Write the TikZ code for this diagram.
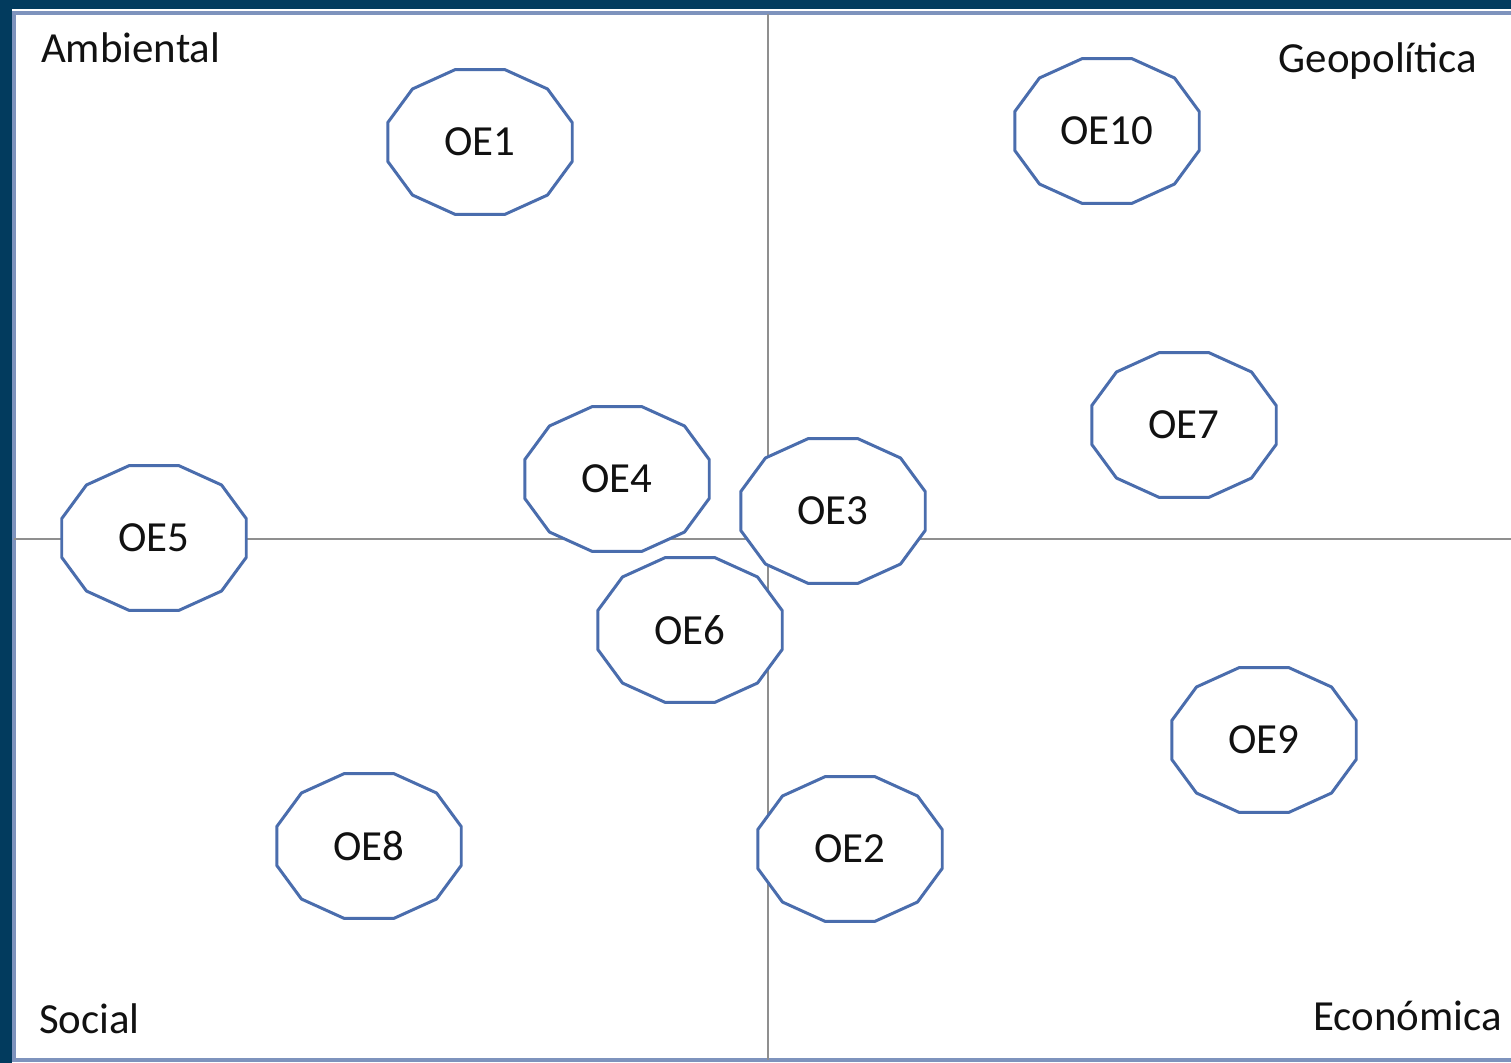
\documentclass[tikz,border=0pt]{standalone}
\usepackage{fontspec}
\setmainfont{Carlito}
\usepackage{xcolor}
\definecolor{navy}{HTML}{023B5E}
\definecolor{rim}{HTML}{7E93BD}
\definecolor{axis}{HTML}{8F8F8F}
\definecolor{edge}{HTML}{4A6DAD}
\definecolor{ink}{HTML}{111111}
\usepackage{tikz}
\usetikzlibrary{backgrounds}
\tikzset{
  every picture/.style={font=\fontsize{12.2}{14}\selectfont, line width=0.6pt},
  quadrant/.style={draw=axis, line width=0.7pt},
  dodec/.style={draw=edge, fill=white, line width=0.85pt, line join=miter},
  tag/.style={text=ink, inner sep=0pt},
  corner/.style={tag},
}

\begin{document}
\begin{tikzpicture}[x=0.01cm, y=-0.01cm]
  \useasboundingbox (0,0) rectangle (1511,1063);
  \begin{scope}[on background layer]
    \fill[navy] (0,0) rectangle (1511,1063);
    \fill[white] (12,9) rectangle (1511,1063);
    \draw[rim, line width=1.2pt] (1511,13) -- (14,13) -- (14,1060) -- (1511,1060);
    \coordinate (north) at (768,14);
    \coordinate (south) at (768,1060);
    \coordinate (west) at (14,539);
    \coordinate (east) at (1511,539);
    \draw[quadrant] (north) -- (south);
    \draw[quadrant] (west) -- (east);
  \end{scope}
  \node[corner, anchor=base west] (ambiental) at (40,62) {Ambiental};
  \node[corner, anchor=base east] (geopolitica) at (1478,72) {Geopolítica};
  \node[corner, anchor=base west] (social) at (38,1033) {Social};
  \node[corner, anchor=base east] (economica) at (1503,1030) {Económica};
  \foreach \n/\px/\py in {1/480/142, 10/1107/131, 7/1184/425, 4/617/479, 3/833/511,
      5/154/538, 6/690/630, 9/1264/740, 8/369/846, 2/850/849} {
    \node[tag] (oe\n) at (\px,\py) {OE\n};
    \begin{scope}[on background layer, shift={(oe\n.center)}]
      \draw[dodec] plot[samples at={15,45,...,345}] (\x:95.5 and 75) -- cycle;
    \end{scope}
  }
\end{tikzpicture}
\end{document}
